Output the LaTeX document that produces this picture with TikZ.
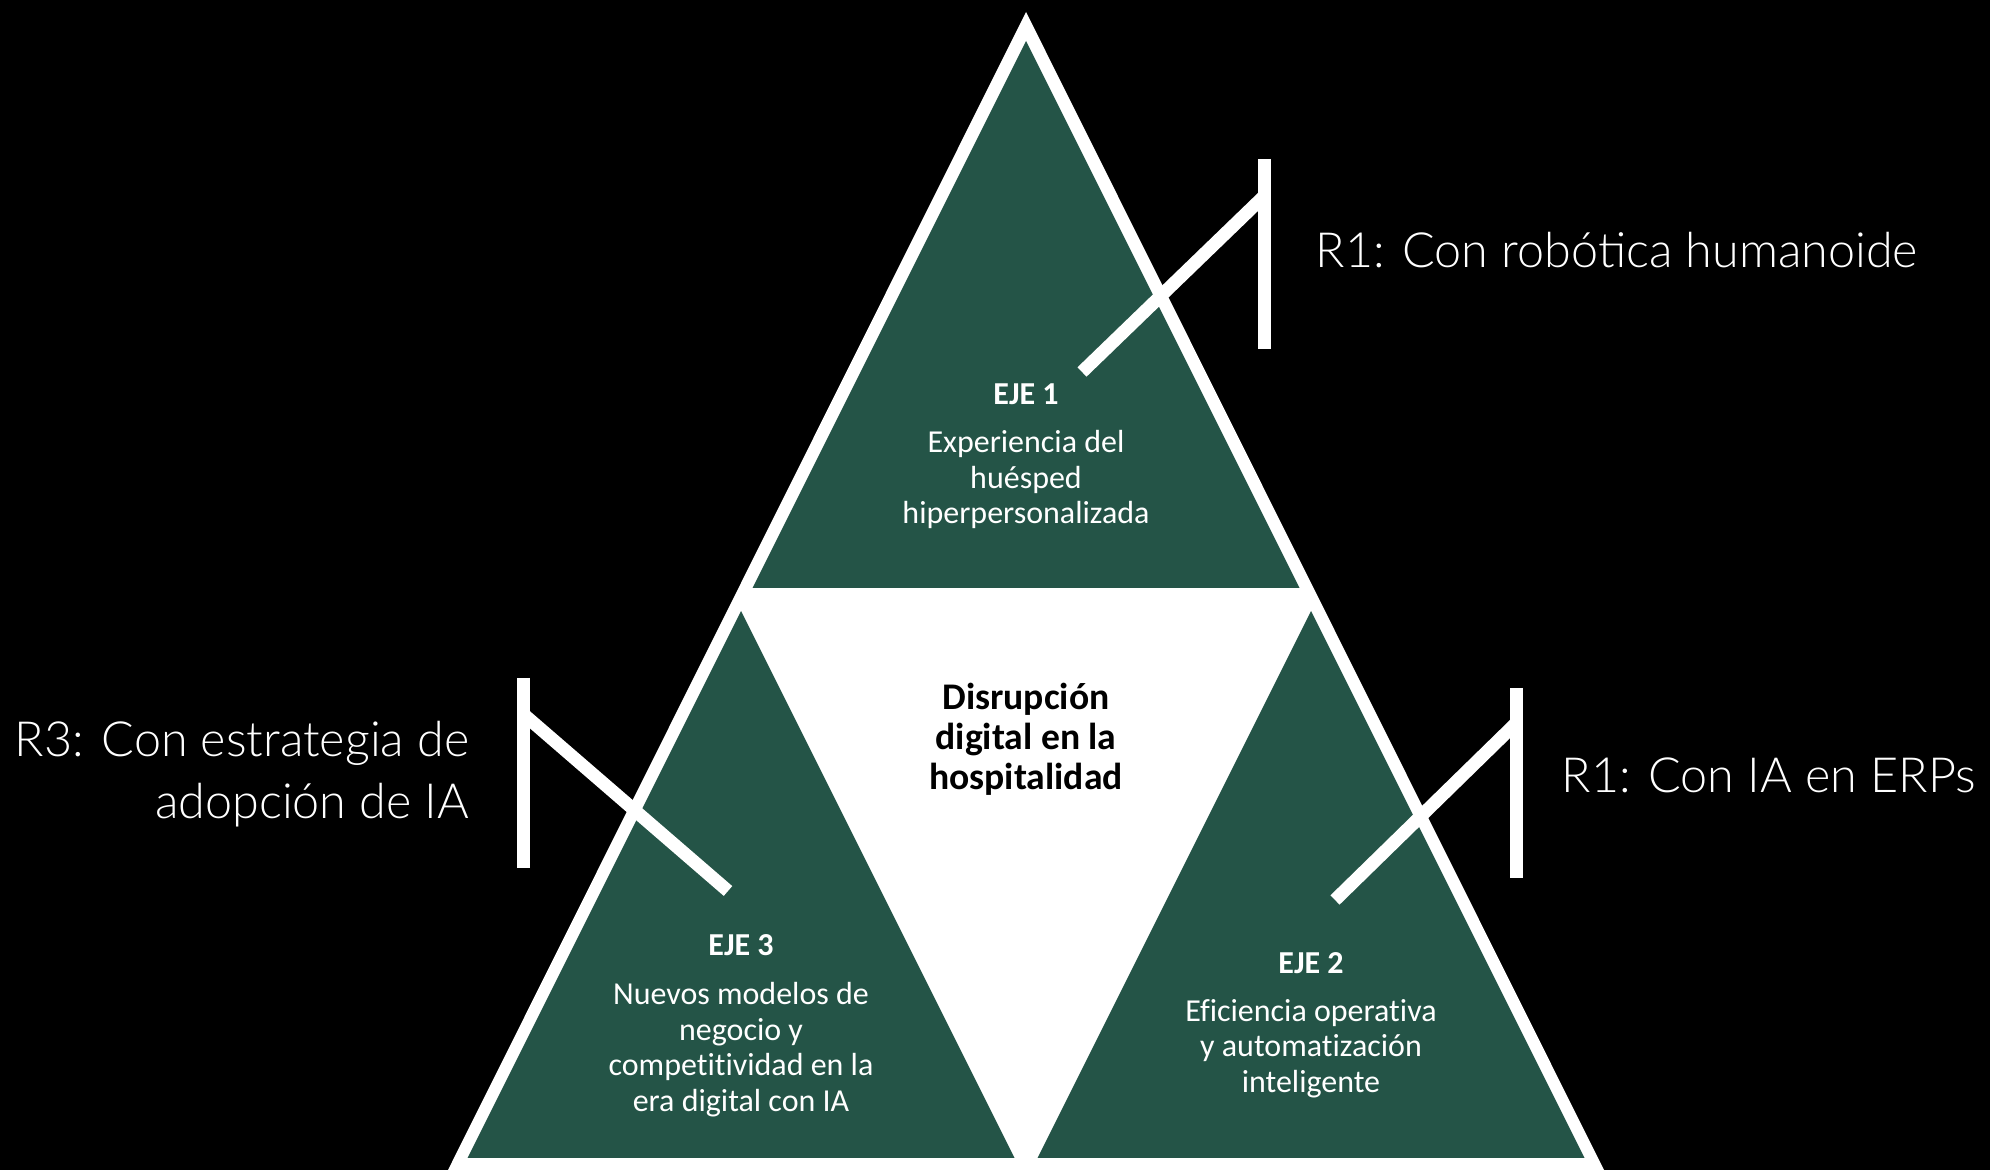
\documentclass[tikz,border=0pt]{standalone}
\usepackage{fontspec}
\setmainfont{Carlito}[Ligatures=NoCommon]
\newfontfamily\lightfont{Lato Light}
\definecolor{ejegreen}{RGB}{36,84,71}

\begin{document}
\begin{tikzpicture}[
        bracket/.style={white,line width=0.13cm},
        ejehead/.style={white,inner sep=0pt,font=\fontsize{9.1}{10.1}\selectfont\bfseries},
        ejetext/.style={white,align=center,inner sep=0pt,font=\fontsize{9.1}{10.1}\selectfont},
        reto/.style={white,inner sep=0pt,font=\lightfont\fontsize{13.8}{17.5}\selectfont}
    ]
        \useasboundingbox (0,0) rectangle (19.9,11.7);
        \fill[black] (0,0) rectangle (19.9,11.7);

        \fill[white] (10.26,11.58) -- (4.48,0) -- (16.04,0) -- cycle;
        \fill[ejegreen] (10.26,11.29) -- (7.525,5.82) -- (12.995,5.82) -- cycle;
        \fill[ejegreen] (7.41,5.59) -- (4.675,0.12) -- (10.145,0.12) -- cycle;
        \fill[ejegreen] (13.11,5.59) -- (10.375,0.12) -- (15.845,0.12) -- cycle;

        \coordinate (r1top) at (12.645,10.11);
        \coordinate (r1bot) at (12.645,8.21);
        \coordinate (r1knee) at (12.645,9.743);
        \coordinate (r1tip) at (10.82,7.98);
        \draw[bracket] (r1top) -- (r1bot);
        \draw[bracket] (r1knee) -- (r1tip);

        \coordinate (r2top) at (15.16,4.82);
        \coordinate (r2bot) at (15.16,2.92);
        \coordinate (r2knee) at (15.16,4.468);
        \coordinate (r2tip) at (13.35,2.70);
        \draw[bracket] (r2top) -- (r2bot);
        \draw[bracket] (r2knee) -- (r2tip);

        \coordinate (r3top) at (5.23,4.92);
        \coordinate (r3bot) at (5.23,3.02);
        \coordinate (r3knee) at (5.23,4.562);
        \coordinate (r3tip) at (7.28,2.79);
        \draw[bracket] (r3top) -- (r3bot);
        \draw[bracket] (r3knee) -- (r3tip);

        \node[reto,anchor=base west] (robotica) at (13.15,9.02) {R1: Con robótica humanoide};
        \node[reto,anchor=base west] (erps) at (15.61,3.77) {R1: Con IA en ERPs};
        \node[reto,align=right,anchor=north east] (adopcion) at (4.70,4.49) {R3: Con estrategia de\\adopción de IA};

        \node[ejehead,anchor=base] (eje1) at (10.26,7.655) {EJE 1};
        \node[ejetext,anchor=north] (eje1txt) at (10.26,7.40) {Experiencia del\\huésped\\hiperpersonalizada};

        \node[ejehead,anchor=base] (eje2) at (13.11,1.965) {EJE 2};
        \node[ejetext,anchor=north] (eje2txt) at (13.11,1.715) {Eficiencia operativa\\y automatización\\inteligente};

        \node[ejehead,anchor=base] (eje3) at (7.41,2.145) {EJE 3};
        \node[ejetext,anchor=north] (eje3txt) at (7.41,1.88) {Nuevos modelos de\\negocio y\\competitividad en la\\era digital con IA};

        \node[align=center,inner sep=0pt,anchor=north,font=\fontsize{10.7}{11.5}\selectfont\bfseries] (disrupcion) at (10.26,4.88) {Disrupción\\digital en la\\hospitalidad};
    \end{tikzpicture}
\end{document}
